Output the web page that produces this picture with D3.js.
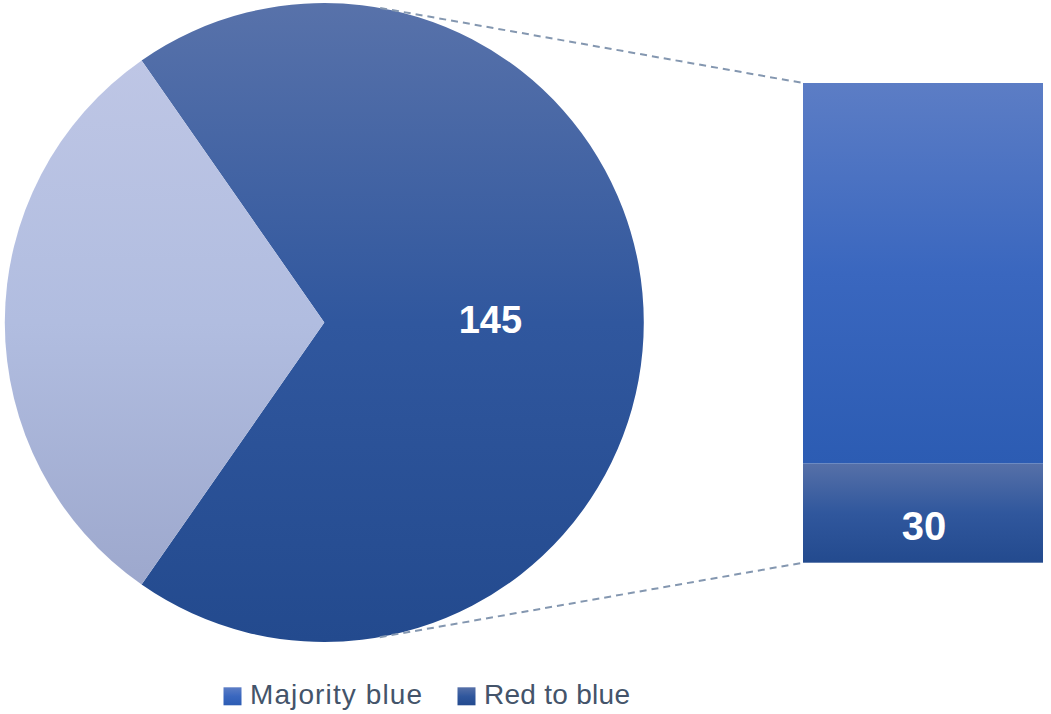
<!DOCTYPE html>
<html>
<head>
<meta charset="utf-8">
<script src="https://cdn.jsdelivr.net/npm/d3@7"></script>
<style>
  html, body { margin: 0; padding: 0; background: #ffffff; }
  svg { display: block; }
</style>
</head>
<body>
<svg id="chart" width="1051" height="714"></svg>
<script>
// ---- data ----
const barCategories = ["Majority blue", "Red to blue"];
const barValues = [115, 30];
const pieOtherCategories = ["Remaining"];
const pieOtherValues = [64];
const legendLabels = ["Majority blue", "Red to blue"];

// ---- layout ----
const W = 1051, H = 714;
const cx = 324.3, cy = 322.5, R = 319.5;
const barX0 = 803, barX1 = 1043, barTop = 83, barBottom = 562.7;

const svg = d3.select("#chart");
const defs = svg.append("defs");
function grad(id, stops) {
  const g = defs.append("linearGradient").attr("id", id)
    .attr("x1", 0).attr("y1", 0).attr("x2", 0).attr("y2", 1);
  stops.forEach(([o, c]) => g.append("stop").attr("offset", o).attr("stop-color", c));
}
grad("gDark", [[0, "#5872aa"], [0.5, "#30579e"], [1, "#234a8e"]]);
grad("gLight", [[0, "#bec6e5"], [0.5, "#b1bde0"], [1, "#9da8cd"]]);
grad("gBlue", [[0, "#5c7dc5"], [0.5, "#3a67bf"], [1, "#2c5cb3"]]);
grad("gRtB", [[0, "#5670a8"], [0.5, "#30579d"], [1, "#234a8e"]]);

// ---- pie (combined slice + remaining) ----
const combined = d3.sum(barValues);
const pieData = [{ name: "Combined", value: combined }]
  .concat(pieOtherCategories.map((c, i) => ({ name: c, value: pieOtherValues[i] })));
const total = d3.sum(pieData, d => d.value);
const combinedAngle = combined / total * 2 * Math.PI;
const pie = d3.pie().value(d => d.value).sort(null)
  .startAngle(Math.PI / 2 - combinedAngle / 2)
  .endAngle(Math.PI / 2 - combinedAngle / 2 + 2 * Math.PI);
const arcs = pie(pieData);
const arc = d3.arc().innerRadius(0).outerRadius(R);

const pg = svg.append("g").attr("transform", `translate(${cx},${cy})`);
pg.selectAll("path").data(arcs).join("path")
  .attr("d", arc)
  .attr("fill", (d, i) => i === 0 ? "url(#gDark)" : "url(#gLight)");

const labelArc = d3.arc().innerRadius(R * 0.52).outerRadius(R * 0.52);
pg.append("text")
  .attr("x", labelArc.centroid(arcs[0])[0])
  .attr("y", labelArc.centroid(arcs[0])[1] + 10.5)
  .attr("text-anchor", "middle")
  .attr("font-family", "Liberation Sans, Arial, sans-serif")
  .attr("font-weight", "bold")
  .attr("font-size", 38)
  .attr("fill", "#ffffff")
  .text(combined);

// ---- bar (stacked) ----
const y = d3.scaleLinear().domain([0, combined]).range([barBottom, barTop]);
const x = d3.scaleLinear().domain([0, 1]).range([barX0, barX1]);
// bottom: Red to blue, top: Majority blue
const order = [1, 0];
let acc = 0;
const segs = order.map(i => {
  const s = { name: barCategories[i], value: barValues[i], y0: acc, y1: acc + barValues[i], idx: i };
  acc += barValues[i];
  return s;
});
const bg = svg.append("g");
bg.selectAll("rect").data(segs).join("rect")
  .attr("x", x(0)).attr("width", x(1) - x(0))
  .attr("y", d => y(d.y1)).attr("height", d => y(d.y0) - y(d.y1))
  .attr("fill", d => d.idx === 0 ? "url(#gBlue)" : "url(#gRtB)");
bg.selectAll("text").data(segs.filter(d => d.idx === 1)).join("text")
  .attr("x", (x(0) + x(1)) / 2 + 1)
  .attr("y", d => (y(d.y0) + y(d.y1)) / 2 + 27)
  .attr("text-anchor", "middle")
  .attr("font-family", "Liberation Sans, Arial, sans-serif")
  .attr("font-weight", "bold")
  .attr("font-size", 40)
  .attr("fill", "#ffffff")
  .text(d => d.value);

// ---- connector lines (tangent from bar corners to circle) ----
function tangentPoint(px, py, upper) {
  const dx = px - cx, dy = py - cy;
  const d = Math.hypot(dx, dy);
  const base = Math.atan2(dy, dx);
  const off = Math.acos(R / d);
  const a = upper ? base - off : base + off;
  return [cx + R * Math.cos(a), cy + R * Math.sin(a)];
}
const corners = [[x(0), y(combined), true], [x(0), y(0), false]];
svg.selectAll("line.conn").data(corners).join("line")
  .attr("class", "conn")
  .attr("x1", d => tangentPoint(d[0], d[1], d[2])[0])
  .attr("y1", d => tangentPoint(d[0], d[1], d[2])[1])
  .attr("x2", d => d[0]).attr("y2", d => d[1])
  .attr("stroke", "#8497b0").attr("stroke-width", 2)
  .attr("stroke-dasharray", "7,5");

// ---- legend ----
const legendX = [223.5, 457.5];
const legendTextLen = [172, 146];
const lg = svg.append("g");
legendLabels.forEach((lab, i) => {
  lg.append("rect").attr("x", legendX[i]).attr("y", 687.3)
    .attr("width", 18).attr("height", 18)
    .attr("fill", i === 0 ? "url(#gBlue)" : "url(#gRtB)");
  lg.append("text").attr("x", legendX[i] + 26.5).attr("y", 704.3)
    .attr("font-family", "Liberation Sans, Arial, sans-serif")
    .attr("font-size", 28)
    .attr("fill", "#44546a")
    .attr("textLength", legendTextLen[i])
    .attr("lengthAdjust", "spacing")
    .text(lab);
});
</script>
</body>
</html>
